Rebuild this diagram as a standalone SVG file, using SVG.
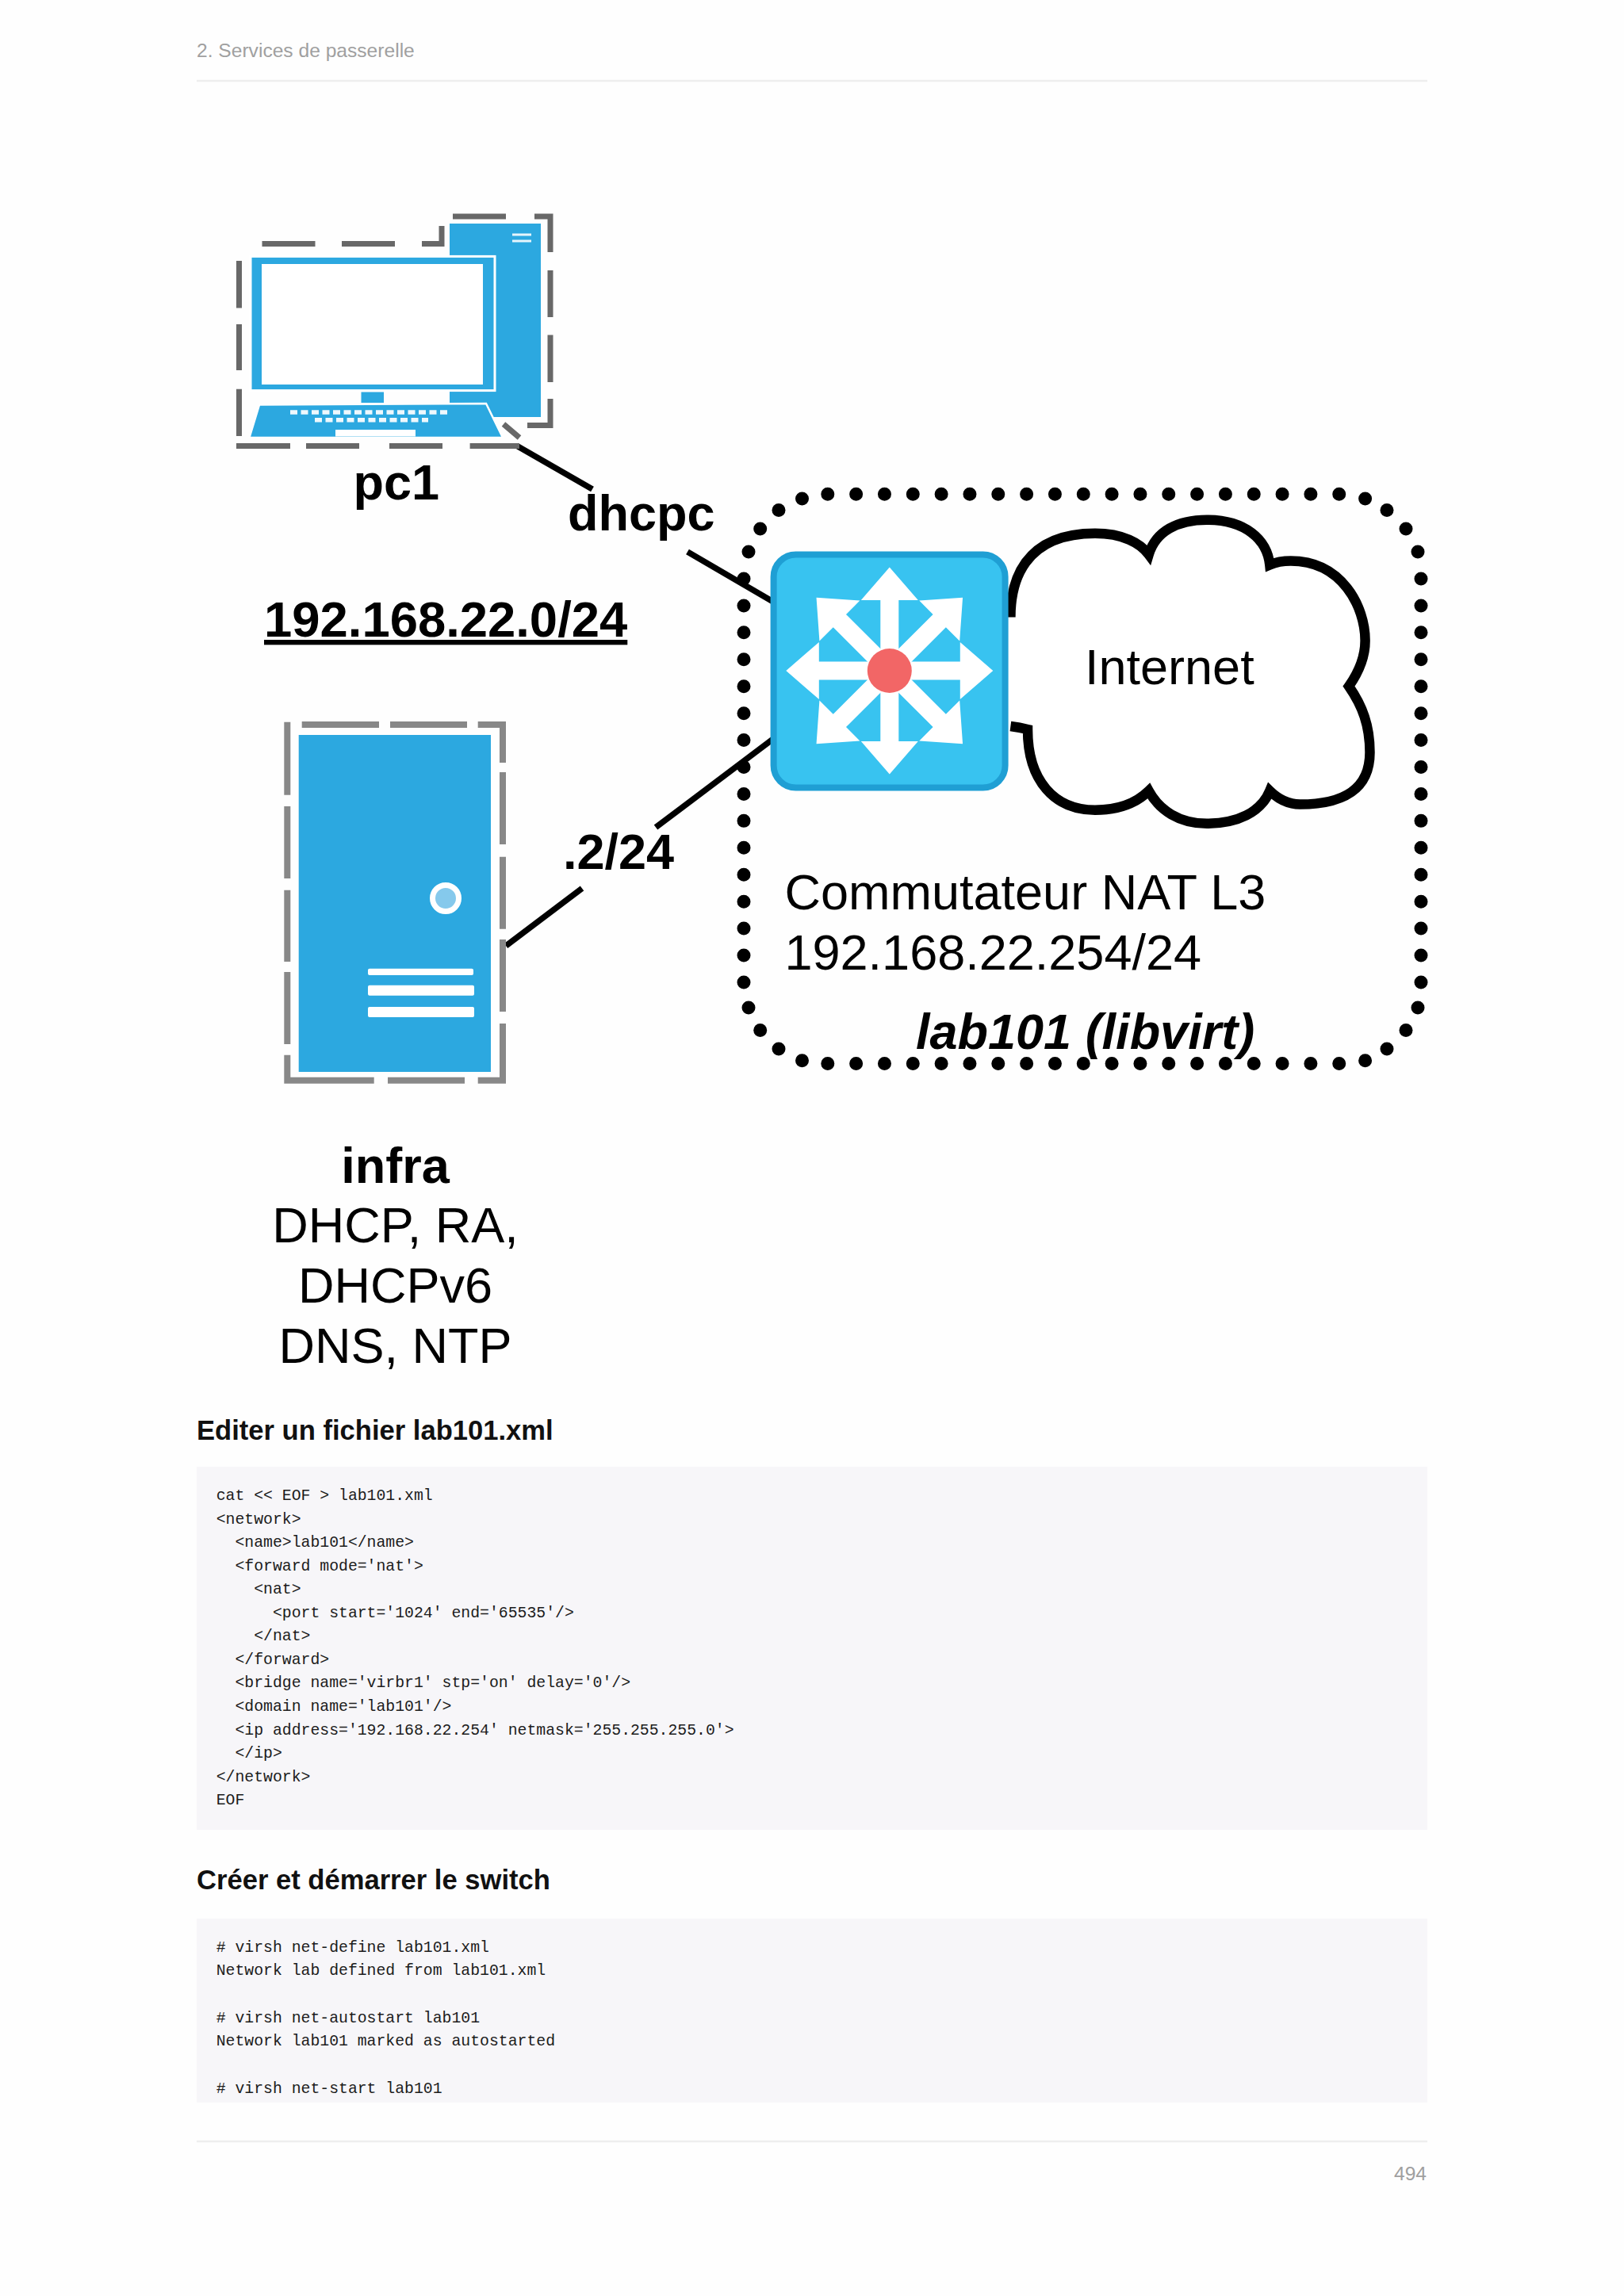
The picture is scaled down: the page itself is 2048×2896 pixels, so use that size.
<svg xmlns="http://www.w3.org/2000/svg" width="2048" height="2896" viewBox="0 0 2048 2896">
<defs>
<polygon id="arrow" points="0,-130.5 36,-89 11.5,-89 11.5,0 -11.5,0 -11.5,-89 -36,-89" fill="#ffffff"/>
</defs>
<style>
text{font-family:"Liberation Sans",Arial,sans-serif;fill:#000}
.big{font-size:63px}
.b{font-weight:bold}
.mid{text-anchor:middle}
.h{font-size:34.6px;font-weight:bold;fill:#111}
.code{font-family:"Liberation Mono","Courier New",monospace;font-size:19.8px;fill:#1c1c1c;white-space:pre}
.page{font-size:24.6px;fill:#a0a0a0}
.rule{stroke:#eeeeee;stroke-width:2.5;fill:none}
.block{fill:#f7f6f9}
.gd{stroke:#686868;stroke-width:7;fill:none}
.gi{stroke:#888888;stroke-width:8;fill:none}
.blue{fill:#2ca8e0}
.dots{stroke:#000;stroke-width:17;stroke-linecap:round;fill:none}
.link{stroke:#000;stroke-width:7.5;fill:none}
</style>
<rect width="2048" height="2896" fill="#fefefe"/>

<g id="page-header">
<text class="page" x="248" y="71.7">2. Services de passerelle</text>
<line class="rule" x1="248" y1="102" x2="1800" y2="102"/>
</g>

<g id="network-boundary">
<line class="dots" x1="1043.8" y1="623.3" x2="1689" y2="623.3" stroke-dasharray="0 35.83"/>
<line class="dots" x1="1043.8" y1="1341.6" x2="1689" y2="1341.6" stroke-dasharray="0 35.83"/>
<line class="dots" x1="938" y1="730" x2="938" y2="1240" stroke-dasharray="0 33.93"/>
<line class="dots" x1="1792" y1="730" x2="1792" y2="1240" stroke-dasharray="0 33.93"/>
<g fill="#000">
<circle cx="944" cy="696" r="8.5"/><circle cx="958.7" cy="667" r="8.5"/><circle cx="982" cy="643.6" r="8.5"/><circle cx="1011.5" cy="629" r="8.5"/>
<circle cx="1788" cy="696" r="8.5"/><circle cx="1773" cy="667" r="8.5"/><circle cx="1749" cy="643.6" r="8.5"/><circle cx="1721.6" cy="629" r="8.5"/>
<circle cx="944" cy="1271" r="8.5"/><circle cx="958.7" cy="1299.5" r="8.5"/><circle cx="982" cy="1323" r="8.5"/><circle cx="1011.5" cy="1337.8" r="8.5"/>
<circle cx="1788" cy="1271" r="8.5"/><circle cx="1773" cy="1299.5" r="8.5"/><circle cx="1749" cy="1323" r="8.5"/><circle cx="1721.6" cy="1337.8" r="8.5"/>
</g>
<text class="big b" font-style="italic" x="1155" y="1323">lab101 (libvirt)</text>
</g>

<g id="connectors">
<line class="link" x1="653" y1="563" x2="747" y2="617"/>
<line class="link" x1="867" y1="696" x2="975" y2="759"/>
<line class="link" x1="975" y1="932" x2="827" y2="1043.6"/>
<line class="link" x1="734" y1="1120.5" x2="638" y2="1193"/>
</g>

<g id="pc1">
<path class="gd" d="M330.5 307.4H397.5M431 307.4H498M532 307.4H557V285M571 273H638M674 273H694V318M694 341V400M694 422.5V482M694 503V536.6H665M635 535L655 552M298 562.6H366M386 562.6H453M491 562.6H558M592.6 562.6H655M301.5 329V388.5M301.5 409V467M301.5 490.7V550"/>
<rect class="blue" x="567" y="282" width="115" height="244"/>
<rect x="646" y="294.5" width="24" height="3" fill="#e6f5fc"/>
<rect x="646" y="302.5" width="24" height="3" fill="#e6f5fc"/>
<rect class="blue" x="316" y="323.4" width="308" height="169.2" stroke="#ffffff" stroke-width="3"/>
<rect x="330" y="333" width="279" height="152" fill="#ffffff"/>
<rect class="blue" x="455.5" y="494.5" width="28.5" height="13.5"/>
<polygon class="blue" points="327,510.6 613,509 634,552 314.5,552" stroke="#ffffff" stroke-width="2.5"/>
<line x1="366" y1="520" x2="568" y2="520" stroke="#eef8fd" stroke-width="5.4" stroke-dasharray="9 4.5"/>
<line x1="397" y1="529.7" x2="540" y2="529.7" stroke="#eef8fd" stroke-width="5.4" stroke-dasharray="9 4.5"/>
<rect x="423" y="542" width="101" height="8.5" fill="#ffffff"/>
<text class="big b" x="445.5" y="630">pc1</text>
</g>

<g id="dhcpc-label"><text class="big b" x="716" y="668.6">dhcpc</text></g>
<g id="subnet-label"><text class="b" font-size="63.4" x="333" y="803" text-decoration="underline">192.168.22.0/24</text></g>

<g id="cloud">
<path d="M1274.4 778.4C1274.4 735 1290 672.7 1381 672.7C1416 672.7 1438 685 1448.7 699.4C1457.5 670 1485 655.7 1522 655.7C1570 655.7 1598 680 1601.3 712.5C1612 708 1620 707.6 1627.7 707.6C1692 707.6 1721.6 765 1721.6 808C1721.6 830 1712 850 1701 865.6C1718 890 1727.5 915 1727.5 949C1727.5 995 1695 1014.5 1639.4 1014.5C1625 1014.5 1612 1008 1601.3 997.5C1590 1025 1560 1038.7 1522 1038.7C1487 1038.7 1462 1022 1448.7 997.5C1432 1014 1410 1021.7 1381 1021.7C1330 1021.7 1296 985 1296 920C1288 918 1282 917 1274.4 916" fill="#ffffff" stroke="#000" stroke-width="12.5"/>
<text class="big" x="1368" y="862.7">Internet</text>
</g>

<g id="switch">
<rect x="975.6" y="699.5" width="292" height="294" rx="28" fill="#38c3f0" stroke="#1f9fd4" stroke-width="8"/>
<use href="#arrow" transform="translate(1121.8 846)"/>
<use href="#arrow" transform="translate(1121.8 846) rotate(45)"/>
<use href="#arrow" transform="translate(1121.8 846) rotate(90)"/>
<use href="#arrow" transform="translate(1121.8 846) rotate(135)"/>
<use href="#arrow" transform="translate(1121.8 846) rotate(180)"/>
<use href="#arrow" transform="translate(1121.8 846) rotate(225)"/>
<use href="#arrow" transform="translate(1121.8 846) rotate(270)"/>
<use href="#arrow" transform="translate(1121.8 846) rotate(315)"/>
<circle cx="1121.8" cy="846" r="28" fill="#f26666"/>
<text class="big" x="989.5" y="1146.8">Commutateur NAT L3</text>
<text class="big" x="989.5" y="1223">192.168.22.254/24</text>
</g>

<g id="infra">
<path class="gi" d="M362.3 910.7V1002.7M362.3 1017V1108M362.3 1122.7V1213M362.3 1226V1317M362.3 1330.7V1362.7H471.7M489 1362.7H586M602.7 1362.7H638M380.7 914H478M492 914H589M602.7 914H634V962M634 974V1065M634 1080.7V1171.7M634 1185V1276M634 1291V1366"/>
<rect class="blue" x="376.7" y="927" width="242.3" height="425"/>
<circle cx="562" cy="1133" r="16.5" fill="#85c9ec" stroke="#ffffff" stroke-width="7"/>
<rect x="464" y="1221.7" width="133" height="8.3" rx="2" fill="#ffffff"/>
<rect x="464" y="1242.7" width="134" height="13" rx="2" fill="#ffffff"/>
<rect x="464" y="1270" width="134" height="13" rx="2" fill="#ffffff"/>
<text class="big b mid" x="498.5" y="1491.5">infra</text>
<text class="big mid" x="498.5" y="1567.4">DHCP, RA,</text>
<text class="big mid" x="498.5" y="1643">DHCPv6</text>
<text class="big mid" x="498.5" y="1718.5">DNS, NTP</text>
</g>

<g id="ip-label"><text class="big b" x="710" y="1095.5">.2/24</text></g>

<g id="section-edit">
<text class="h" x="248" y="1816">Editer un fichier lab101.xml</text>
<rect class="block" x="248" y="1850" width="1552" height="458"/>
<text class="code" x="272.7" y="1892">cat &lt;&lt; EOF &gt; lab101.xml</text>
<text class="code" x="272.7" y="1921.6">&lt;network&gt;</text>
<text class="code" x="272.7" y="1951.1">  &lt;name&gt;lab101&lt;/name&gt;</text>
<text class="code" x="272.7" y="1980.7">  &lt;forward mode='nat'&gt;</text>
<text class="code" x="272.7" y="2010.2">    &lt;nat&gt;</text>
<text class="code" x="272.7" y="2039.8">      &lt;port start='1024' end='65535'/&gt;</text>
<text class="code" x="272.7" y="2069.3">    &lt;/nat&gt;</text>
<text class="code" x="272.7" y="2098.9">  &lt;/forward&gt;</text>
<text class="code" x="272.7" y="2128.4">  &lt;bridge name='virbr1' stp='on' delay='0'/&gt;</text>
<text class="code" x="272.7" y="2158">  &lt;domain name='lab101'/&gt;</text>
<text class="code" x="272.7" y="2187.5">  &lt;ip address='192.168.22.254' netmask='255.255.255.0'&gt;</text>
<text class="code" x="272.7" y="2217.1">  &lt;/ip&gt;</text>
<text class="code" x="272.7" y="2246.6">&lt;/network&gt;</text>
<text class="code" x="272.7" y="2276.2">EOF</text>
</g>

<g id="section-start">
<text class="h" x="248" y="2383">Créer et démarrer le switch</text>
<rect class="block" x="248" y="2420" width="1552" height="232"/>
<text class="code" x="272.7" y="2461.7"># virsh net-define lab101.xml</text>
<text class="code" x="272.7" y="2491.3">Network lab defined from lab101.xml</text>
<text class="code" x="272.7" y="2550.6"># virsh net-autostart lab101</text>
<text class="code" x="272.7" y="2580.2">Network lab101 marked as autostarted</text>
<text class="code" x="272.7" y="2639.5"># virsh net-start lab101</text>
</g>

<g id="page-footer">
<line class="rule" x1="248" y1="2701" x2="1800" y2="2701"/>
<text class="page" x="1799" y="2750" text-anchor="end">494</text>
</g>
</svg>
